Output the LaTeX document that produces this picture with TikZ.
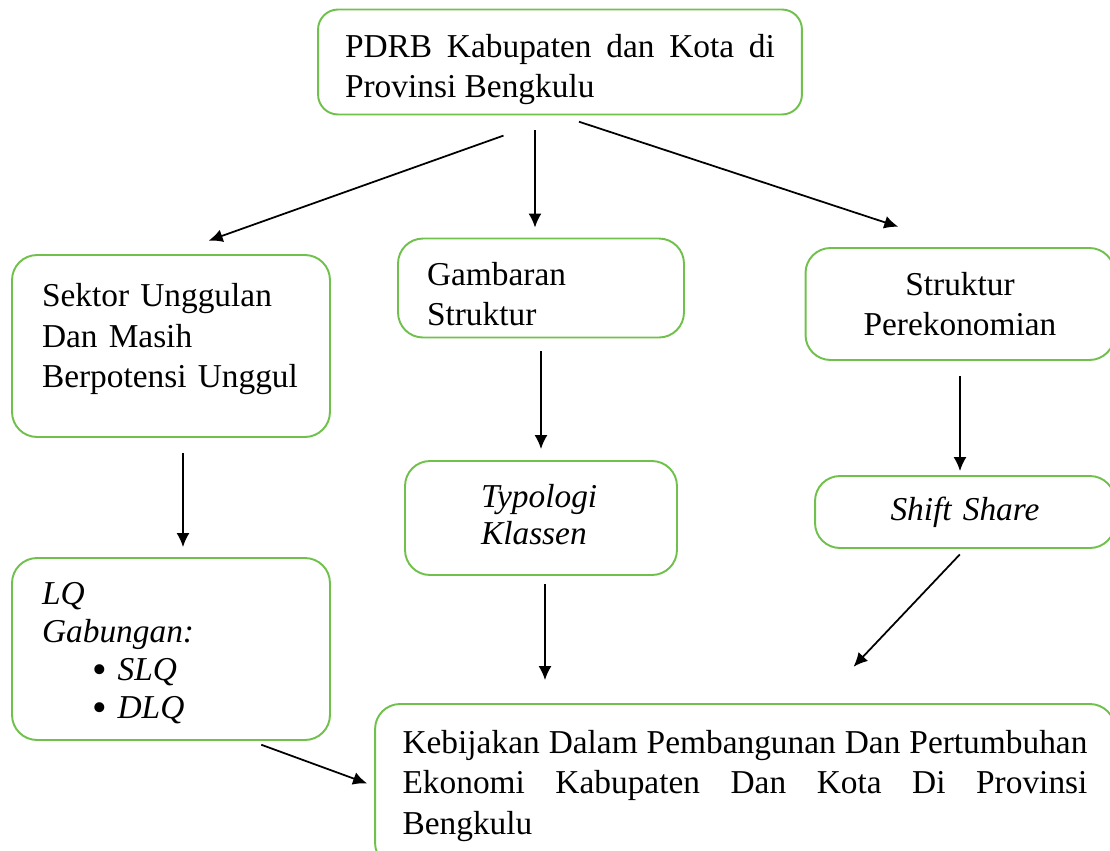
\documentclass[tikz,border=0pt]{standalone}
\usepackage{fontspec}
\setmainfont{Liberation Serif}
\usetikzlibrary{arrows.meta,calc}
\definecolor{boxgreen}{RGB}{112,192,76}
\hyphenpenalty=10000
\newcommand{\lqbullet}{\hspace*{1cm}\raisebox{-1.8pt}{\scalebox{1.25}{\textbullet}}\hspace{0.22cm}}

\begin{document}
\begin{tikzpicture}[x=0.02cm, y=-0.02cm,
	box/.style={draw=boxgreen, line width=1.1pt, rounded corners=0.5cm, inner sep=0pt,
		font=\fontsize{19}{22.8}\selectfont},
	flow/.style={arrows={-Latex[length=0.28cm,width=0.26cm]}, line width=1pt}]
	\useasboundingbox (0,0) rectangle (1110,850);
	\clip (0,0) rectangle (1110,850);
	\node [box, rounded corners=0.4cm, minimum width=9.68cm, minimum height=2.1cm, text width=8.6cm, align=justify] (pdrb) at (560,62) {\rule{0pt}{22pt}PDRB Kabupaten dan Kota di Provinsi Bengkulu};
	\node [box, minimum width=6.36cm, minimum height=3.64cm, text width=5.16cm, align=left] (sektor) at (171,346) {Sektor Unggulan\\Dan Masih\\Berpotensi Unggul\rule[-12pt]{0pt}{0pt}};
	\node [box, minimum width=5.72cm, minimum height=1.98cm, text width=4.56cm, align=left] (gamb) at (541,288) {\rule{0pt}{20pt}Gambaran\\Struktur};
	\node [box, minimum width=6.18cm, minimum height=2.24cm, text width=5cm, align=center] (struk) at (960,304) {Struktur\\Perekonomian};
	\node [box, minimum width=5.44cm, minimum height=2.28cm, text width=2.4cm, align=left, font=\fontsize{19}{21}\selectfont] (typo) at (541,518) {\textit{Typologi}\\\textit{Klassen}\rule[-4.5pt]{0pt}{0pt}};
	\node [box, minimum width=6cm, minimum height=1.44cm, text width=5cm, align=center] (shift) at (965,512) {\textit{Shift Share}};
	\node [box, minimum width=6.36cm, minimum height=3.64cm, text width=5.16cm, align=left, font=\fontsize{19}{21.6}\selectfont] (lq) at (171,649) {\rule{0pt}{17pt}\textit{LQ}\\\textit{Gabungan:}\\\lqbullet\textit{SLQ}\\\lqbullet\textit{DLQ}};
	\node [box, minimum width=14.8cm, minimum height=3.28cm, text width=13.7cm, align=justify] (kebij) at (745,786) {Kebijakan Dalam Pembangunan Dan Pertumbuhan Ekonomi Kabupaten Dan Kota Di Provinsi Bengkulu};
	\draw [flow, shorten <=1.2cm, shorten >=0.8cm] (pdrb.south) -- (sektor.north);
	\draw [flow, shorten <=0.3cm, shorten >=0.2cm] ([xshift=-0.12cm]pdrb.south -| gamb.north) -- ([xshift=-0.12cm]gamb.north);
	\draw [flow, shorten <=0.4cm, shorten >=1.3cm] (pdrb.south) -- (struk.north);
	\draw [flow, shorten <=0.3cm, shorten >=0.2cm] ([xshift=0.24cm]sektor.south) -- ([xshift=0.24cm]lq.north);
	\draw [flow, shorten <=0.26cm, shorten >=0.22cm] (gamb.south) -- (typo.north);
	\draw [flow, shorten <=0.3cm, shorten >=0.08cm] (struk.south) -- (struk.south |- shift.north);
	\draw [flow, shorten <=0.16cm, shorten >=0.46cm] ([xshift=0.08cm]typo.south) -- ([xshift=0.08cm]typo.south |- kebij.north);
	\draw [flow, shorten <=0.15cm, shorten >=1cm] (shift.south) -- ($(kebij.north west)!0.6!(kebij.north east)$);
	\draw [flow, shorten <=0.22cm, shorten >=0.15cm] ($(lq.south)!0.5!(lq.south east)$) -- (kebij.west);
\end{tikzpicture}
\end{document}
